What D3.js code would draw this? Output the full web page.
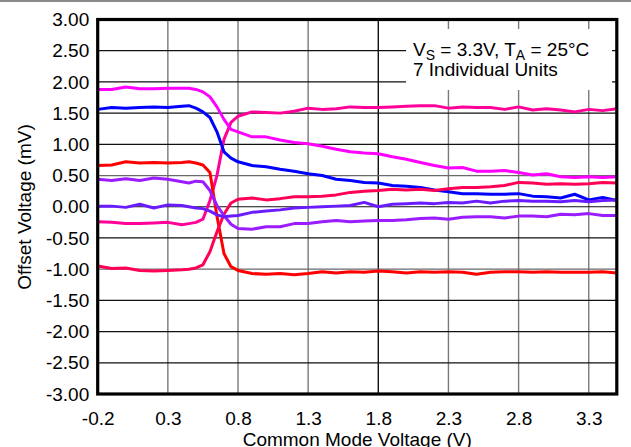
<!DOCTYPE html>
<html>
<head>
<meta charset="utf-8">
<script src="https://cdn.jsdelivr.net/npm/d3@7"></script>
<style>
  body { margin: 0; background: #fff; }
  text { font-family: "Liberation Sans", Arial, sans-serif; }
</style>
</head>
<body>
<div id="chart-div"></div>
<script>
// common mode voltage (V) at each sample
var cmv = [-0.2, -0.1, 0, 0.1, 0.2, 0.3, 0.4, 0.45, 0.5, 0.55, 0.6, 0.65, 0.7, 0.75, 0.8,
    0.9, 1.0, 1.1, 1.2, 1.3, 1.4, 1.5, 1.6, 1.7, 1.8, 1.9, 2.0, 2.1, 2.2, 2.3, 2.4,
    2.5, 2.6, 2.7, 2.8, 2.9, 3.0, 3.1, 3.2, 3.3, 3.4, 3.5];

// offset voltage (mV), one array per unit
var unitPink = [-0.24, -0.25, -0.27, -0.27, -0.26, -0.25, -0.29, -0.27, -0.25, -0.2, 0.1, 0.5, 1.08, 1.35, 1.45,
    1.52, 1.51, 1.50, 1.53, 1.58, 1.56, 1.57, 1.60, 1.59, 1.59, 1.60, 1.61, 1.62, 1.62, 1.58, 1.60,
    1.59, 1.59, 1.56, 1.60, 1.55, 1.57, 1.55, 1.52, 1.56, 1.54, 1.57];
var unitMagenta = [1.88, 1.88, 1.92, 1.89, 1.89, 1.90, 1.90, 1.90, 1.88, 1.84, 1.76, 1.60, 1.40, 1.24, 1.20,
    1.12, 1.12, 1.07, 1.03, 1.01, 0.97, 0.92, 0.88, 0.86, 0.85, 0.80, 0.76, 0.71, 0.66, 0.62, 0.63,
    0.57, 0.57, 0.58, 0.55, 0.51, 0.53, 0.48, 0.47, 0.48, 0.47, 0.48];
var unitBlue = [1.56, 1.59, 1.58, 1.59, 1.60, 1.59, 1.61, 1.62, 1.58, 1.52, 1.43, 1.20, 0.88, 0.78, 0.72,
    0.66, 0.64, 0.60, 0.57, 0.53, 0.50, 0.44, 0.42, 0.39, 0.38, 0.34, 0.33, 0.31, 0.27, 0.24, 0.21,
    0.21, 0.20, 0.20, 0.21, 0.17, 0.16, 0.14, 0.20, 0.11, 0.15, 0.10];
var unitRed = [0.66, 0.67, 0.72, 0.70, 0.71, 0.70, 0.71, 0.72, 0.70, 0.67, 0.55, -0.15, -0.75, -0.96, -1.02,
    -1.07, -1.08, -1.07, -1.09, -1.07, -1.04, -1.06, -1.04, -1.05, -1.03, -1.04, -1.06, -1.04, -1.05, -1.04, -1.05,
    -1.08, -1.05, -1.04, -1.04, -1.05, -1.04, -1.05, -1.05, -1.05, -1.04, -1.06];
var unitRose = [-0.95, -0.99, -0.98, -1.02, -1.03, -1.02, -1.01, -1.0, -0.98, -0.93, -0.72, -0.4, -0.12, 0.06, 0.12,
    0.14, 0.11, 0.13, 0.16, 0.16, 0.17, 0.19, 0.23, 0.25, 0.26, 0.28, 0.27, 0.28, 0.26, 0.29, 0.31,
    0.31, 0.32, 0.34, 0.39, 0.38, 0.36, 0.37, 0.36, 0.37, 0.39, 0.38];
var unitPurple = [0.44, 0.42, 0.45, 0.42, 0.46, 0.44, 0.40, 0.38, 0.41, 0.40, 0.26, 0.02, -0.14, -0.28, -0.35,
    -0.36, -0.32, -0.32, -0.27, -0.27, -0.24, -0.22, -0.24, -0.23, -0.22, -0.22, -0.21, -0.19, -0.18, -0.20, -0.17,
    -0.16, -0.16, -0.18, -0.15, -0.15, -0.16, -0.12, -0.13, -0.11, -0.14, -0.14];
var unitViolet = [0.01, 0.01, -0.01, 0.04, -0.02, 0.03, 0.02, 0.0, -0.02, -0.03, -0.07, -0.13, -0.16, -0.15, -0.14,
    -0.09, -0.07, -0.05, -0.02, -0.01, 0.0, 0.01, 0.02, 0.07, 0.0, 0.04, 0.05, 0.06, 0.05, 0.07, 0.06,
    0.09, 0.06, 0.09, 0.10, 0.09, 0.09, 0.08, 0.10, 0.08, 0.10, 0.11];

var units = [unitPink, unitMagenta, unitBlue, unitRed, unitRose, unitPurple, unitViolet];
var unitColors = ["#ff0099", "#ff00ff", "#0000ff", "#ff0000", "#ff0055", "#9a1cff", "#6a1cff"];

var xTicks = [-0.2, 0.3, 0.8, 1.3, 1.8, 2.3, 2.8, 3.3];
var yTicks = [-3, -2.5, -2, -1.5, -1, -0.5, 0, 0.5, 1, 1.5, 2, 2.5, 3];

var width = 631;
var height = 447;
var plot = { left: 97.7, right: 616.8, top: 19.5, bottom: 394 };

var svg = d3.select("#chart-div")
    .append("svg")
    .attr("width", width)
    .attr("height", height);

svg.append("rect").attr("width", width).attr("height", height).attr("fill", "#fff");

// thin grey rule along the top of the page
svg.append("line")
    .attr("x1", 0).attr("x2", width).attr("y1", 1).attr("y2", 1)
    .attr("stroke", "#8a8a8a").attr("stroke-width", 2);

var x = d3.scaleLinear().domain([-0.2, 3.5]).range([plot.left, plot.right]);
var y = d3.scaleLinear().domain([-3, 3]).range([plot.bottom, plot.top]);

// grid
svg.append("g").selectAll("line")
    .data(xTicks.slice(1))
    .enter().append("line")
    .attr("x1", function (d) { return x(d); })
    .attr("x2", function (d) { return x(d); })
    .attr("y1", plot.top).attr("y2", plot.bottom)
    .attr("stroke", function (d) { return d == 1.8 ? "#111" : "#7a7a7a"; })
    .attr("stroke-width", 1.4);

svg.append("g").selectAll("line")
    .data(yTicks.slice(1, -1))
    .enter().append("line")
    .attr("x1", plot.left).attr("x2", plot.right)
    .attr("y1", function (d) { return y(d); })
    .attr("y2", function (d) { return y(d); })
    .attr("stroke", function (d) { return (d == 0.5 || d == -1) ? "#6a6a6a" : "#111"; })
    .attr("stroke-width", 1.2);

// note box covers the grid
svg.append("rect")
    .attr("x", 406).attr("y", 29)
    .attr("width", 206).attr("height", 61)
    .attr("fill", "#fff");

svg.append("clipPath").attr("id", "plot-clip")
    .append("rect")
    .attr("x", plot.left).attr("y", plot.top)
    .attr("width", plot.right - plot.left).attr("height", plot.bottom - plot.top);

var line = d3.line()
    .x(function (d, i) { return x(cmv[i]); })
    .y(function (d) { return y(d); });

svg.append("g")
    .attr("clip-path", "url(#plot-clip)")
    .selectAll("path")
    .data(units)
    .enter()
    .append("path")
    .attr("d", line)
    .attr("fill", "none")
    .attr("stroke", function (d, i) { return unitColors[i]; })
    .attr("stroke-width", 3)
    .attr("stroke-linejoin", "round");

// frame
svg.append("rect")
    .attr("x", plot.left).attr("y", plot.top)
    .attr("width", plot.right - plot.left).attr("height", plot.bottom - plot.top)
    .attr("fill", "none")
    .attr("stroke", "#000")
    .attr("stroke-width", 3.2);

// axes (labels only)
var xAxis = svg.append("g")
    .attr("transform", "translate(0," + plot.bottom + ")")
    .call(d3.axisBottom(x).tickValues(xTicks).tickSize(0).tickPadding(18)
        .tickFormat(function (d) { return d.toFixed(1); }));

var yAxis = svg.append("g")
    .attr("transform", "translate(" + plot.left + ",0)")
    .call(d3.axisLeft(y).tickValues(yTicks).tickSize(0).tickPadding(8.5)
        .tickFormat(function (d) { return d.toFixed(2); }));

[xAxis, yAxis].forEach(function (g) {
    g.select(".domain").remove();
    g.selectAll("text")
        .attr("font-family", "'Liberation Sans', Arial, sans-serif")
        .attr("font-size", 19)
        .attr("fill", "#000");
});

svg.append("text")
    .attr("x", x(1.65)).attr("y", 446)
    .attr("text-anchor", "middle")
    .attr("font-size", 19)
    .text("Common Mode Voltage (V)");

svg.append("text")
    .attr("transform", "translate(31,207) rotate(-90)")
    .attr("text-anchor", "middle")
    .attr("font-size", 19)
    .text("Offset Voltage (mV)");

// conditions note
var note = svg.append("text").attr("x", 413).attr("y", 56).attr("font-size", 19);
note.append("tspan").text("V");
note.append("tspan").attr("dy", 4).attr("font-size", 14).text("S");
note.append("tspan").attr("dy", -4).text(" = 3.3V, T");
note.append("tspan").attr("dy", 4).attr("font-size", 14).text("A");
note.append("tspan").attr("dy", -4).text(" = 25°C");

svg.append("text").attr("x", 413).attr("y", 76).attr("font-size", 19)
    .text("7 Individual Units");
</script>
</body>
</html>
